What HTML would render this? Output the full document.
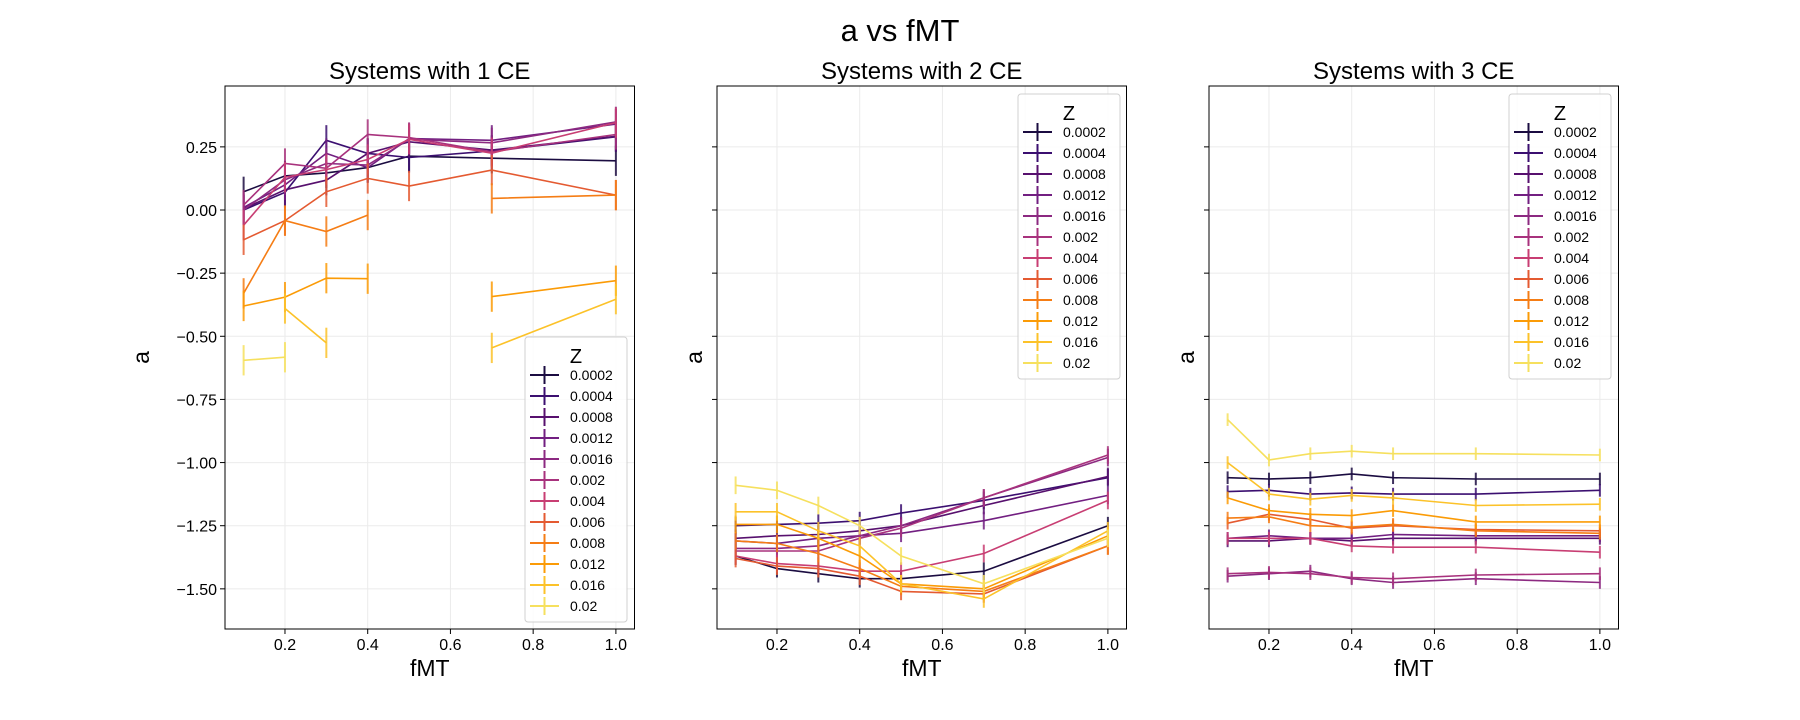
<!DOCTYPE html>
<html><head><meta charset="utf-8"><style>
html,body{margin:0;padding:0;background:#fff}
svg{display:block;font-family:"Liberation Sans","DejaVu Sans",sans-serif}
</style></head><body>
<svg id="chart" width="1800" height="720" viewBox="0 0 1800 720" xmlns="http://www.w3.org/2000/svg">
<text x="900" y="41" text-anchor="middle" font-size="31">a vs fMT</text>
</svg>
<script>
const fmt = [0.1, 0.2, 0.3, 0.4, 0.5, 0.7, 1.0];
const zLabels = ["0.0002","0.0004","0.0008","0.0012","0.0016","0.002","0.004","0.006","0.008","0.012","0.016","0.02"];
const colors = ["#1b0c41","#3b0f70","#57106e","#721f81","#8c2981","#a8327d","#c83e73","#e45a31","#f57d15","#fb9b06","#fcc229","#f6e05e"];
const xTicks = [0.2, 0.4, 0.6, 0.8, 1.0];
const yTicks = [0.25, 0, -0.25, -0.5, -0.75, -1.0, -1.25, -1.5];
const yTickLabels = ["0.25","0.00","\u22120.25","\u22120.50","\u22120.75","\u22121.00","\u22121.25","\u22121.50"];
const N = null;
const panel1 = [
 [0.072,0.135,0.147,0.168,0.213,0.205,0.195],
 [0.0,0.07,0.276,0.224,0.208,0.234,0.29],
 [0.005,0.08,0.118,0.224,0.27,0.237,0.292],
 [0.01,0.1,0.224,0.168,0.283,0.276,0.34],
 [0.0,0.12,0.184,0.178,0.28,0.266,0.349],
 [0.02,0.184,0.165,0.299,0.287,0.23,0.299],
 [-0.06,0.13,0.16,0.2,0.28,0.225,0.346],
 [-0.118,-0.042,0.072,0.125,0.095,0.158,0.059],
 [-0.33,-0.042,-0.085,-0.02,N,0.046,0.059],
 [-0.38,-0.345,-0.27,-0.272,N,-0.343,-0.28],
 [N,-0.39,-0.526,N,N,-0.546,-0.353],
 [-0.595,-0.583,N,N,N,N,N]
];
const panel2 = [
 [-1.37,-1.42,-1.44,-1.46,-1.46,-1.43,-1.25],
 [-1.25,-1.245,-1.24,-1.23,-1.20,-1.15,-1.06],
 [-1.30,-1.29,-1.285,-1.27,-1.25,-1.17,-1.055],
 [-1.31,-1.32,-1.30,-1.29,-1.28,-1.23,-1.13],
 [-1.34,-1.34,-1.33,-1.29,-1.25,-1.14,-0.98],
 [-1.35,-1.35,-1.35,-1.30,-1.26,-1.14,-0.97],
 [-1.37,-1.40,-1.41,-1.43,-1.43,-1.36,-1.15],
 [-1.38,-1.41,-1.42,-1.45,-1.51,-1.52,-1.33],
 [-1.31,-1.32,-1.36,-1.42,-1.49,-1.51,-1.33],
 [-1.245,-1.245,-1.30,-1.37,-1.48,-1.50,-1.29],
 [-1.195,-1.195,-1.27,-1.33,-1.48,-1.54,-1.27],
 [-1.09,-1.11,-1.17,-1.25,-1.37,-1.48,-1.30]
];
const panel3 = [
 [-1.06,-1.065,-1.06,-1.045,-1.06,-1.065,-1.065],
 [-1.115,-1.11,-1.125,-1.12,-1.125,-1.125,-1.11],
 [-1.31,-1.31,-1.30,-1.31,-1.30,-1.30,-1.30],
 [-1.30,-1.29,-1.30,-1.30,-1.285,-1.29,-1.29],
 [-1.45,-1.44,-1.43,-1.46,-1.475,-1.46,-1.475],
 [-1.44,-1.435,-1.44,-1.455,-1.46,-1.445,-1.44],
 [-1.30,-1.30,-1.30,-1.33,-1.335,-1.335,-1.355],
 [-1.24,-1.205,-1.225,-1.26,-1.25,-1.265,-1.27],
 [-1.22,-1.215,-1.25,-1.255,-1.245,-1.27,-1.28],
 [-1.14,-1.19,-1.205,-1.21,-1.19,-1.235,-1.235],
 [-1.00,-1.125,-1.145,-1.13,-1.14,-1.17,-1.165],
 [-0.83,-0.99,-0.965,-0.955,-0.965,-0.965,-0.97]
];
const errs = [0.06, 0.035, 0.025];
const panelTitles = ["Systems with 1 CE","Systems with 2 CE","Systems with 3 CE"];
const allData = [panel1, panel2, panel3];

const svg = document.getElementById('chart');
const NS = "http://www.w3.org/2000/svg";
function mk(tag, attrs, parent){const e=document.createElementNS(NS,tag);for(const k in attrs)e.setAttribute(k,attrs[k]);(parent||svg).appendChild(e);return e;}
const lefts=[225,717,1209], W=409.5, TOP=86, BOT=629;
const XMIN=0.055, XMAX=1.045, YMAX=0.491, YMIN=-1.659;
const legendPos=[[525,337],[1018,94],[1509,94]];

for(let p=0;p<3;p++){
  const L=lefts[p];
  const xs=v=>L+(v-XMIN)/(XMAX-XMIN)*W;
  const ys=v=>TOP+(YMAX-v)/(YMAX-YMIN)*(BOT-TOP);
  const g=mk('g',{});
  
  
  // grid
  xTicks.forEach(t=>{const l=mk('line',{x1:xs(t),x2:xs(t),y1:TOP,y2:BOT,stroke:'#ebebeb','stroke-width':1},g);});
  yTicks.forEach(t=>{const l=mk('line',{x1:L,x2:L+W,y1:ys(t),y2:ys(t),stroke:'#ebebeb','stroke-width':1},g);});
  // series
  const data=allData[p];
  data.forEach((ser,si)=>{
    const sg=mk('g',{stroke:colors[si],fill:'none','stroke-width':1.6},g);
    
    
    let d='',pen=false;
    ser.forEach((v,i)=>{
      if(v===null){pen=false;return;}
      d+=(pen?'L':'M')+xs(fmt[i]).toFixed(1)+' '+ys(v).toFixed(1)+' ';pen=true;
      const eb=mk('line',{x1:xs(fmt[i]),x2:xs(fmt[i]),y1:ys(v+errs[p]),y2:ys(v-errs[p]),'stroke-width':2,'stroke-opacity':0.85},sg);
      
      
    });
    const pth=mk('path',{d:d},sg);
    
    
  });
  // frame
  const fr=mk('rect',{x:L,y:TOP,width:W,height:BOT-TOP,fill:'none',stroke:'#000','stroke-width':1},g);
  
  
  // x ticks
  xTicks.forEach(t=>{
    mk('line',{x1:xs(t),x2:xs(t),y1:BOT,y2:BOT+5,stroke:'#000'},g);
    const tx=mk('text',{x:xs(t),y:BOT+21,'text-anchor':'middle','font-size':16},g);
    tx.textContent=t.toFixed(1);
    
    
  });
  yTicks.forEach((t,i)=>{
    mk('line',{x1:L-5,x2:L,y1:ys(t),y2:ys(t),stroke:'#000'},g);
    if(p===0){
      const ty=mk('text',{x:L-8,y:ys(t)+6,'text-anchor':'end','font-size':16},g);
      ty.textContent=yTickLabels[i];
      
      
    }
  });
  const xl=mk('text',{x:L+W/2,y:676,'text-anchor':'middle','font-size':23},g);
  xl.textContent='fMT';
  
  
  const yx=[149,702,1194][p];
  const yl=mk('text',{x:yx,y:(TOP+BOT)/2,'text-anchor':'middle','font-size':23,transform:'rotate(-90 '+yx+' '+((TOP+BOT)/2)+')'},g);
  yl.textContent='a';
  
  
  const pt=mk('text',{x:L+W/2,y:79,'text-anchor':'middle','font-size':24},g);
  pt.textContent=panelTitles[p];
  
  
  // legend
  const [lx,ly]=legendPos[p];
  const lg=mk('g',{},g);
  
  
  mk('rect',{x:lx,y:ly,width:102,height:285,rx:3,fill:'#fff','fill-opacity':0.85,stroke:'#d0d0d0'},lg);
  const lt=mk('text',{x:lx+51,y:ly+26,'text-anchor':'middle','font-size':20},lg);
  lt.textContent='Z';
  
  
  zLabels.forEach((z,i)=>{
    const yy=ly+38+i*21;
    const eg=mk('g',{},lg);
    
    
    mk('line',{x1:lx+5,x2:lx+34,y1:yy,y2:yy,stroke:colors[i],'stroke-width':2},eg);
    mk('line',{x1:lx+19.5,x2:lx+19.5,y1:yy-9,y2:yy+9,stroke:colors[i],'stroke-width':2},eg);
    const et=mk('text',{x:lx+45,y:yy+5,'font-size':14},eg);
    et.textContent=z;
  });
}
</script>
</body></html>
